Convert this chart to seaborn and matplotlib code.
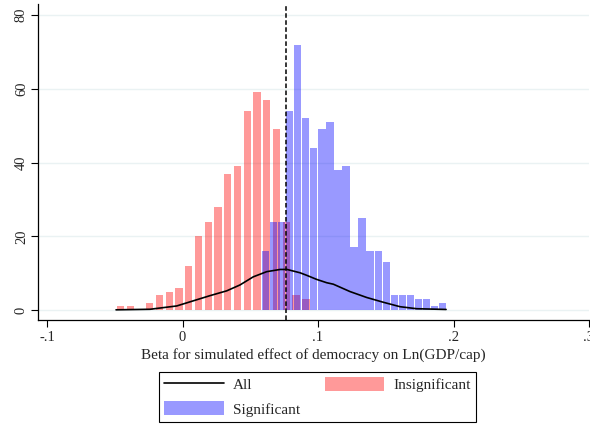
import numpy as np
import pandas as pd
import seaborn as sns
import matplotlib.pyplot as plt
from matplotlib.patches import Patch
from matplotlib.lines import Line2D

# Histogram bins (bin centre of first bar, bin width, counts)
insig_start = -0.0458
insig_width = 0.0072
insig_counts = [1, 1, 0, 2, 4, 5, 6, 12, 20, 24, 28, 37, 39, 54, 59, 57, 49, 24, 4, 3]

sig_start = 0.06125
sig_width = 0.00594
sig_counts = [16, 24, 24, 54, 72, 52, 44, 49, 51, 38, 39, 17, 25, 16, 16, 13, 4, 4, 4, 3, 3, 1, 2]

# "All" density curve
all_x = [-0.0491, -0.0240, -0.0043, 0.0080, 0.0203, 0.0326, 0.0424, 0.0522, 0.0621,
         0.0720, 0.0771, 0.0867, 0.0917, 0.0990, 0.1064, 0.1113, 0.1236, 0.1359,
         0.1482, 0.1605, 0.1728, 0.1945]
all_y = [0.05, 0.2, 1.1, 2.5, 3.9, 5.2, 6.8, 9.0, 10.4, 11.0, 11.0, 10.1, 9.4, 8.3,
         7.4, 7.0, 5.0, 3.4, 2.1, 0.9, 0.35, 0.15]

mean_beta = 0.0764

xticks = [-0.1, 0, 0.1, 0.2, 0.3]
xtick_labels = ["-.1", "0", ".1", ".2", ".3"]
yticks = [0, 20, 40, 60, 80]

sns.set_style("white")
plt.rcParams["font.family"] = ["Liberation Serif", "DejaVu Serif"]

fig = plt.figure(figsize=(5.9, 4.24), dpi=100)
ax = fig.add_axes([37.6 / 590, 104 / 424, (589 - 37.6) / 590, (320 - 4) / 424])

red = (1.0, 0.0, 0.0)
blue = (0.0, 0.0, 1.0)

n_i = len(insig_counts)
insig = pd.DataFrame({"beta": insig_start + insig_width * np.arange(n_i),
                      "count": insig_counts})
insig_edges = list(insig_start - insig_width / 2 + insig_width * np.arange(n_i + 1))
sns.histplot(data=insig, x="beta", weights="count", bins=insig_edges, color=red,
             alpha=0.4, shrink=0.75, linewidth=0, ax=ax)

n_s = len(sig_counts)
sig = pd.DataFrame({"beta": sig_start + sig_width * np.arange(n_s),
                    "count": sig_counts})
sig_edges = list(sig_start - sig_width / 2 + sig_width * np.arange(n_s + 1))
sns.histplot(data=sig, x="beta", weights="count", bins=sig_edges, color=blue,
             alpha=0.4, shrink=0.91, linewidth=0, ax=ax)

sns.lineplot(x=all_x, y=all_y, color="black", linewidth=1.2, sort=False, ax=ax)

ax.set_xlim(-0.107, 0.3)
ax.set_ylim(-2.71, 83)
ax.axvline(mean_beta, ymin=0, ymax=(82.5 + 2.71) / (83 + 2.71), color="black",
           linestyle=(0, (3, 1.6)), linewidth=1.1)

ax.set_xticks(xticks)
ax.set_xticklabels(xtick_labels)
ax.set_yticks(yticks)
ax.set_yticklabels([str(v) for v in yticks], rotation=90, va="center")
ax.tick_params(axis="both", direction="out", length=5, width=0.8, color="black",
               labelsize=10.5, pad=3, bottom=True, left=True)
ax.tick_params(axis="y", pad=2)
ax.yaxis.grid(True, color="#EAF2F3", linewidth=1)
ax.xaxis.grid(False)
ax.set_axisbelow(True)

for side in ["top", "right"]:
    ax.spines[side].set_visible(False)
for side in ["left", "bottom"]:
    ax.spines[side].set_color("black")
    ax.spines[side].set_linewidth(0.9)

ax.set_xlabel("Beta for simulated effect of democracy on Ln(GDP/cap)", fontsize=11, labelpad=3)
ax.set_ylabel("")

handles = [Line2D([], [], color="black", linewidth=1.2),
           Patch(facecolor=blue, alpha=0.4, linewidth=0),
           Patch(facecolor=red, alpha=0.4, linewidth=0)]
labels = ["All", "Significant", "Insignificant"]
leg = fig.legend(handles, labels, ncol=2, loc="center", bbox_to_anchor=(0.538, 0.064),
                 frameon=True, fancybox=False, edgecolor="black", framealpha=1,
                 fontsize=11, handlelength=3.9, handleheight=1.0, handletextpad=0.6,
                 columnspacing=1.6, labelspacing=0.6, borderpad=0.35)
leg.get_frame().set_linewidth(0.8)

fig.savefig("out.png", dpi=100)
